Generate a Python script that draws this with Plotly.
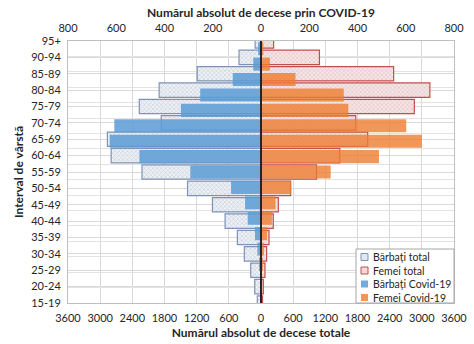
import plotly.graph_objects as go

ages = ["95+", "90-94", "85-89", "80-84", "75-79", "70-74", "65-69", "60-64", "55-59",
        "50-54", "45-49", "40-44", "35-39", "30-34", "25-29", "20-24", "15-19"]

men_total = [110, 410, 1190, 1900, 2270, 1860, 2865, 2795, 2220, 1370, 906, 670, 441, 311, 192, 117, 69]
women_total = [235, 1090, 2474, 3150, 2860, 1767, 1990, 1470, 1036, 553, 323, 229, 149, 105, 74, 43, 28]
men_covid = [12, 32, 117, 252, 332, 608, 627, 504, 293, 124, 66, 55, 25, 15, 8, 4, 2]
women_covid = [10, 37, 143, 343, 362, 602, 667, 489, 289, 125, 60, 45, 25, 12, 8, 5, 3]

series_names = ["Bărbați total", "Femei total", "Bărbați Covid-19", "Femei Covid-19"]

bottom_ticks = [-3600, -3000, -2400, -1800, -1200, -600, 0, 600, 1200, 1800, 2400, 3000, 3600]
top_ticks = [-800, -600, -400, -200, 0, 200, 400, 600, 800]

FONT = "Lato"
TXT = "#262626"

MEN_TOT = dict(color="#e9edf3", line=dict(color="#7f93b5", width=1.2),
               pattern=dict(shape="x", size=3, solidity=0.4, fgcolor="#a3b0c4", bgcolor="#eef1f6"))
WOM_TOT = dict(color="#f3e2e2", line=dict(color="#c0504d", width=1.2),
               pattern=dict(shape="x", size=3, solidity=0.4, fgcolor="#d4a2a2", bgcolor="#f5e6e6"))
MEN_COV = "rgba(91,155,213,0.85)"
WOM_COV = "rgba(237,125,49,0.8)"

fig = go.Figure()

fig.add_trace(go.Bar(
    y=ages, x=[-v for v in men_total], orientation="h", name=series_names[0],
    width=0.88, xaxis="x", yaxis="y", marker=MEN_TOT,
))
fig.add_trace(go.Bar(
    y=ages, x=women_total, orientation="h", name=series_names[1],
    width=0.88, xaxis="x", yaxis="y", marker=WOM_TOT,
))
fig.add_trace(go.Bar(
    y=ages, x=[-v for v in men_covid], orientation="h", name=series_names[2],
    width=0.85, xaxis="x2", yaxis="y2",
    marker=dict(color=MEN_COV, line=dict(width=0)),
))
fig.add_trace(go.Bar(
    y=ages, x=women_covid, orientation="h", name=series_names[3],
    width=0.85, xaxis="x2", yaxis="y2",
    marker=dict(color=WOM_COV, line=dict(width=0)),
))

fig.add_shape(type="line", xref="x", yref="paper", x0=0, x1=0, y0=0, y1=1,
              line=dict(color="#000000", width=1.5), layer="above")

# compact legend box (drawn in paper coordinates, like the Excel legend)
PLOT_L, PLOT_R, PLOT_T, PLOT_B = 68, 454, 41, 303
def px(xp):
    return (xp - PLOT_L) / (PLOT_R - PLOT_L)
def py(yp):
    return (PLOT_B - yp) / (PLOT_B - PLOT_T)

fig.add_shape(type="rect", xref="paper", yref="paper", x0=px(356), x1=1, y0=0, y1=py(249),
              fillcolor="white", line=dict(color="#a6a6a6", width=1), layer="above")
swatches = [
    dict(fillcolor="#e3e8f0", line=dict(color="#7f93b5", width=1)),
    dict(fillcolor="#efdada", line=dict(color="#c0504d", width=1)),
    dict(fillcolor=MEN_COV, line=dict(width=0)),
    dict(fillcolor=WOM_COV, line=dict(width=0)),
]
row_y = [257, 270.5, 284, 297.5]
for name, sw, ry in zip(series_names, swatches, row_y):
    fig.add_shape(type="rect", xref="paper", yref="paper", x0=px(361), x1=px(368),
                  y0=py(ry + 3.5), y1=py(ry - 3.5), layer="above", **sw)
    fig.add_annotation(xref="paper", yref="paper", x=px(371), y=py(ry), text=name,
                       showarrow=False, xanchor="left", yanchor="middle",
                       font=dict(size=10.5, family=FONT, color=TXT))

fig.update_layout(
    width=474, height=344,
    margin=dict(l=PLOT_L, r=474 - PLOT_R, t=PLOT_T, b=344 - PLOT_B),
    paper_bgcolor="white", plot_bgcolor="white",
    barmode="overlay", showlegend=False,
    font=dict(family=FONT, size=11, color=TXT),
    xaxis=dict(
        range=[-3600, 3600], tickvals=bottom_ticks, ticktext=[str(abs(v)) for v in bottom_ticks],
        showgrid=True, gridcolor="#d9d9d9", gridwidth=1, zeroline=False, automargin=False,
        showline=True, linecolor="#bfbfbf", ticks="", ticklen=0, ticklabelstandoff=5,
        title=dict(text="<b>Numărul absolut de decese totale</b>", font=dict(size=12, family=FONT), standoff=5),
        tickfont=dict(size=11),
    ),
    xaxis2=dict(
        range=[-800, 800], tickvals=top_ticks, ticktext=[str(abs(v)) for v in top_ticks],
        overlaying="x", side="top", anchor="y", automargin=False,
        showgrid=False, zeroline=False, showline=True, linecolor="#bfbfbf", ticklabelstandoff=4,
        title=dict(text="<b>Numărul absolut de decese prin COVID-19</b>", font=dict(size=12, family=FONT), standoff=0),
        tickfont=dict(size=11),
    ),
    yaxis=dict(
        type="category", categoryarray=ages, range=[16, 0], automargin=False,
        showgrid=True, gridcolor="#d9d9d9", gridwidth=1, zeroline=False,
        showline=True, linecolor="#bfbfbf", ticks="", ticklen=0, ticklabelstandoff=4,
        title=dict(text="<b>Interval de vârstă</b>", font=dict(size=12, family=FONT), standoff=4),
        tickfont=dict(size=11),
    ),
    yaxis2=dict(
        type="category", categoryarray=ages, range=[16.5, -0.5], automargin=False,
        overlaying="y", side="right", anchor="x",
        showgrid=True, gridcolor="#e3e3e3", gridwidth=1, tickson="boundaries",
        showticklabels=False, zeroline=False, showline=True, linecolor="#bfbfbf", ticks="",
    ),
)

fig.write_html("out.html")
